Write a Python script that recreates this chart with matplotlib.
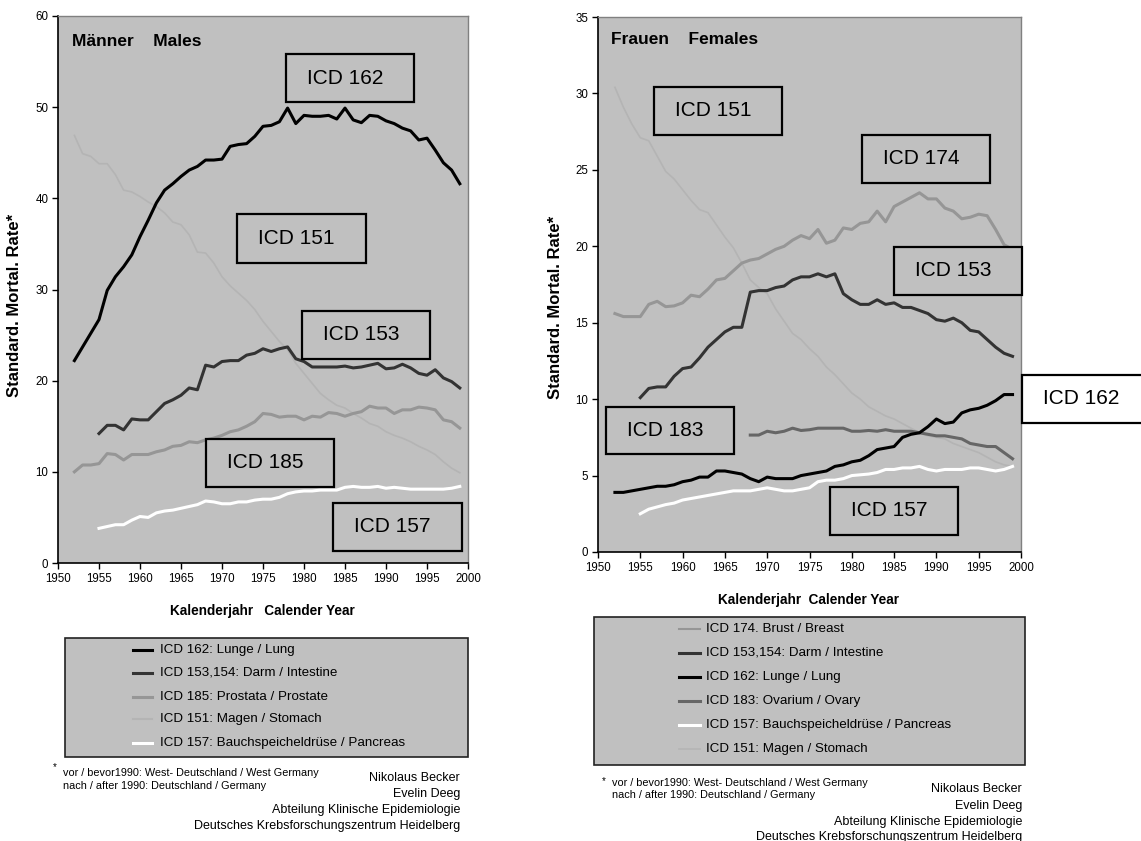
import numpy as np
import matplotlib
matplotlib.use("Agg")
import matplotlib.pyplot as plt
from matplotlib.transforms import Affine2D
from matplotlib.patches import Rectangle
from matplotlib.lines import Line2D

plt.rcParams['font.family'] = ['Liberation Sans', 'DejaVu Sans']

nan = np.nan
years = list(range(1952, 2000))

# ---------------- Males ----------------
m_162 = [22.2, 23.7, 25.2, 26.7, 29.9, 31.4, 32.5, 33.8, 35.8, 37.6, 39.5, 40.9, 41.6, 42.4, 43.1, 43.5,
         44.2, 44.2, 44.3, 45.7, 45.9, 46.0, 46.8, 47.9, 48.0, 48.4, 49.9, 48.2, 49.1, 49.0, 49.0, 49.1,
         48.7, 49.9, 48.6, 48.3, 49.1, 49.0, 48.5, 48.2, 47.7, 47.4, 46.4, 46.6, 45.3, 43.9, 43.1, 41.6]
m_153 = [nan, nan, nan, 14.2, 15.1, 15.1, 14.6, 15.8, 15.7, 15.7, 16.6, 17.5, 17.9, 18.4, 19.2, 19.0,
         21.7, 21.5, 22.1, 22.2, 22.2, 22.8, 23.0, 23.5, 23.2, 23.5, 23.7, 22.4, 22.1, 21.5, 21.5, 21.5,
         21.5, 21.6, 21.4, 21.5, 21.7, 21.9, 21.3, 21.4, 21.8, 21.4, 20.8, 20.6, 21.2, 20.3, 19.9, 19.2]
m_185 = [10.0, 10.75, 10.75, 10.9, 12.0, 11.9, 11.3, 11.9, 11.9, 11.9, 12.2, 12.4, 12.8, 12.9, 13.3, 13.2,
         13.5, 13.7, 14.0, 14.4, 14.6, 15.0, 15.5, 16.4, 16.3, 16.0, 16.1, 16.1, 15.7, 16.1, 16.0, 16.5,
         16.4, 16.1, 16.4, 16.6, 17.2, 17.0, 17.0, 16.4, 16.8, 16.8, 17.1, 17.0, 16.8, 15.7, 15.5, 14.8]
m_151 = [46.9, 44.9, 44.6, 43.8, 43.8, 42.6, 40.9, 40.7, 40.2, 39.6, 39.1, 38.4, 37.4, 37.1, 36.0, 34.1,
         34.0, 32.9, 31.4, 30.4, 29.6, 28.8, 27.8, 26.5, 25.4, 24.3, 23.4, 21.9, 20.8, 19.7, 18.6, 17.9,
         17.3, 17.0, 16.4, 15.9, 15.3, 15.0, 14.4, 14.0, 13.7, 13.3, 12.8, 12.4, 11.9, 11.1, 10.4, 9.9]
m_157 = [nan, nan, nan, 3.8, 4.0, 4.2, 4.2, 4.7, 5.1, 5.0, 5.5, 5.7, 5.8, 6.0, 6.2, 6.4,
         6.8, 6.7, 6.5, 6.5, 6.7, 6.7, 6.9, 7.0, 7.0, 7.2, 7.6, 7.8, 7.9, 7.9, 8.0, 8.0,
         8.0, 8.3, 8.4, 8.3, 8.3, 8.4, 8.2, 8.3, 8.2, 8.1, 8.1, 8.1, 8.1, 8.1, 8.2, 8.4]

m_labels = ["ICD 162: Lunge / Lung", "ICD 153,154: Darm / Intestine", "ICD 185: Prostata / Prostate",
            "ICD 151: Magen / Stomach", "ICD 157: Bauchspeicheldrüse / Pancreas"]

# ---------------- Females ----------------
f_174 = [15.6, 15.4, 15.4, 15.4, 16.2, 16.4, 16.05, 16.1, 16.3, 16.8, 16.7, 17.2, 17.8, 17.9, 18.4, 18.9,
         19.1, 19.2, 19.5, 19.8, 20.0, 20.4, 20.7, 20.5, 21.1, 20.2, 20.4, 21.2, 21.1, 21.5, 21.6, 22.3,
         21.6, 22.6, 22.9, 23.2, 23.5, 23.1, 23.1, 22.5, 22.3, 21.8, 21.9, 22.1, 22.0, 21.1, 20.1, 19.8]
f_153 = [nan, nan, nan, 10.1, 10.7, 10.8, 10.8, 11.5, 12.0, 12.1, 12.7, 13.4, 13.9, 14.4, 14.7, 14.7,
         17.0, 17.1, 17.1, 17.3, 17.4, 17.8, 18.0, 18.0, 18.2, 18.0, 18.2, 16.9, 16.5, 16.2, 16.2, 16.5,
         16.2, 16.3, 16.0, 16.0, 15.8, 15.6, 15.2, 15.1, 15.3, 15.0, 14.5, 14.4, 13.9, 13.4, 13.0, 12.8]
f_162 = [3.9, 3.9, 4.0, 4.1, 4.2, 4.3, 4.3, 4.4, 4.6, 4.7, 4.9, 4.9, 5.3, 5.3, 5.2, 5.1,
         4.8, 4.6, 4.9, 4.8, 4.8, 4.8, 5.0, 5.1, 5.2, 5.3, 5.6, 5.7, 5.9, 6.0, 6.3, 6.7,
         6.8, 6.9, 7.5, 7.7, 7.8, 8.2, 8.7, 8.4, 8.5, 9.1, 9.3, 9.4, 9.6, 9.9, 10.3, 10.3]
f_183 = [nan] * 16 + [7.65, 7.65, 7.9, 7.8, 7.9, 8.1, 7.95, 8.0, 8.1, 8.1, 8.1, 8.1, 7.9, 7.9, 7.95, 7.9,
                      8.0, 7.9, 7.9, 7.9, 7.8, 7.7, 7.6, 7.6, 7.5, 7.4, 7.1, 7.0, 6.9, 6.9, 6.5, 6.1]
f_157 = [nan, nan, nan, 2.5, 2.8, 2.95, 3.1, 3.2, 3.4, 3.5, 3.6, 3.7, 3.8, 3.9, 4.0, 4.0,
         4.0, 4.1, 4.2, 4.1, 4.0, 4.0, 4.1, 4.2, 4.6, 4.7, 4.7, 4.8, 5.0, 5.05, 5.1, 5.2,
         5.4, 5.4, 5.5, 5.5, 5.6, 5.4, 5.3, 5.4, 5.4, 5.4, 5.5, 5.5, 5.4, 5.3, 5.4, 5.6]
f_151 = [30.4, 29.1, 28.0, 27.1, 26.9, 25.9, 24.9, 24.4, 23.7, 23.0, 22.4, 22.2, 21.4, 20.6, 19.9, 18.9,
         17.8, 17.3, 16.9, 15.9, 15.1, 14.3, 13.9, 13.3, 12.8, 12.1, 11.6, 11.0, 10.4, 10.0, 9.5, 9.2,
         8.9, 8.7, 8.4, 8.1, 7.8, 7.6, 7.5, 7.4, 7.1, 6.9, 6.7, 6.5, 6.2, 5.9, 5.7, 5.6]

f_labels = ["ICD 174. Brust / Breast", "ICD 153,154: Darm / Intestine", "ICD 162: Lunge / Lung",
            "ICD 183: Ovarium / Ovary", "ICD 157: Bauchspeicheldrüse / Pancreas", "ICD 151: Magen / Stomach"]

x_ticks = [1950, 1955, 1960, 1965, 1970, 1975, 1980, 1985, 1990, 1995, 2000]
m_yticks = [0, 10, 20, 30, 40, 50, 60]
f_yticks = [0, 5, 10, 15, 20, 25, 30, 35]

# ---------------- figure ----------------
W, H = 1141, 841
fig = plt.figure(figsize=(W / 100, H / 100), dpi=100)
fig.patch.set_facecolor("white")
PX = Affine2D().scale(1.0 / W, -1.0 / H).translate(0, 1) + fig.transFigure

BG = "#c0c0c0"
C_BLACK, C_DARK, C_MID, C_OVA, C_LIGHT, C_WHITE = "#000000", "#333333", "#969696", "#666666", "#b4b4b4", "#ffffff"


def px_axes(x0, y0, x1, y1):
    return fig.add_axes([x0 / W, 1 - y1 / H, (x1 - x0) / W, (y1 - y0) / H])


def style_axes(ax, ymax, yticks):
    ax.set_facecolor(BG)
    ax.set_xlim(1950, 2000)
    ax.set_ylim(0, ymax)
    ax.set_xticks(x_ticks)
    ax.set_yticks(yticks)
    ax.tick_params(direction="out", length=4, width=1, labelsize=8.3, pad=3, colors="black")
    for s in ("top", "right"):
        ax.spines[s].set_color("#808080")
        ax.spines[s].set_linewidth(1)
    for s in ("left", "bottom"):
        ax.spines[s].set_color("black")
        ax.spines[s].set_linewidth(1.2)


def box(x0, y0, x1, y1, label, face=BG):
    r = Rectangle((x0, y0), x1 - x0, y1 - y0, transform=PX, facecolor=face, edgecolor="black",
                  linewidth=1.6, zorder=10, clip_on=False)
    fig.add_artist(r)
    fig.text(x0 + 21, (y0 + y1) / 2, label, transform=PX, fontsize=15, ha="left", va="center", zorder=11)


def legend(x0, y0, x1, y1, entries, ys, hx0, hx1, tx):
    r = Rectangle((x0, y0), x1 - x0, y1 - y0, transform=PX, facecolor=BG, edgecolor="#222222",
                  linewidth=1.2, zorder=5)
    fig.add_artist(r)
    for (lab, col, lw), y in zip(entries, ys):
        fig.add_artist(Line2D([hx0, hx1], [y, y], transform=PX, color=col, linewidth=lw, zorder=6))
        fig.text(tx, y, lab, transform=PX, fontsize=9.6, ha="left", va="center", zorder=6)


# ---- Males axes ----
ax1 = px_axes(58, 16, 468, 563)
style_axes(ax1, 60, m_yticks)
ax1.plot(years, m_151, color=C_LIGHT, lw=1.2)
ax1.plot(years, m_157, color=C_WHITE, lw=2.2)
ax1.plot(years, m_185, color=C_MID, lw=2.2)
ax1.plot(years, m_153, color=C_DARK, lw=2.2)
ax1.plot(years, m_162, color=C_BLACK, lw=2.2)
fig.text(72, 42, "Männer    Males", transform=PX, fontsize=12.5, fontweight="bold", ha="left", va="center")
fig.text(15, 305, "Standard. Mortal. Rate*", transform=PX, fontsize=12, fontweight="bold",
         rotation=90, ha="center", va="center")
fig.text(262, 611, "Kalenderjahr   Calender Year", transform=PX, fontsize=9.8, fontweight="bold",
         ha="center", va="center")

box(286, 54, 414, 102, "ICD 162")
box(237, 214, 366, 263, "ICD 151")
box(302, 311, 430, 359, "ICD 153")
box(206, 439, 334, 487, "ICD 185")
box(333, 503, 462, 551, "ICD 157")

legend(65, 638, 468, 757,
       [(m_labels[0], C_BLACK, 2.2), (m_labels[1], C_DARK, 2.2), (m_labels[2], C_MID, 2.2),
        (m_labels[3], C_LIGHT, 1.5), (m_labels[4], C_WHITE, 2.2)],
       [650, 673, 697, 719, 743], 133, 152, 160)

fig.text(53, 767, "*", transform=PX, fontsize=7, ha="left", va="center")
fig.text(63, 773, "vor / bevor1990: West- Deutschland / West Germany", transform=PX, fontsize=7.8,
         ha="left", va="center")
fig.text(63, 786, "nach / after 1990: Deutschland / Germany", transform=PX, fontsize=7.8,
         ha="left", va="center")
for t, y in zip(["Nikolaus Becker", "Evelin Deeg", "Abteilung Klinische Epidemiologie",
                 "Deutsches Krebsforschungszentrum Heidelberg"], [778, 794, 810, 826]):
    fig.text(460, y, t, transform=PX, fontsize=9, ha="right", va="center")

# ---- Females axes ----
ax2 = px_axes(598, 17, 1021, 552)
style_axes(ax2, 35, f_yticks)
ax2.plot(years, f_151, color=C_LIGHT, lw=1.2)
ax2.plot(years, f_157, color=C_WHITE, lw=2.2)
ax2.plot(years, f_174, color=C_MID, lw=2.2)
ax2.plot(years, f_183, color=C_OVA, lw=2.2)
ax2.plot(years, f_153, color=C_DARK, lw=2.2)
ax2.plot(years, f_162, color=C_BLACK, lw=2.2)
fig.text(611, 40, "Frauen    Females", transform=PX, fontsize=12.5, fontweight="bold", ha="left", va="center")
fig.text(555, 307, "Standard. Mortal. Rate*", transform=PX, fontsize=12, fontweight="bold",
         rotation=90, ha="center", va="center")
fig.text(809, 600, "Kalenderjahr  Calender Year", transform=PX, fontsize=9.8, fontweight="bold",
         ha="center", va="center")

box(654, 87, 782, 135, "ICD 151")
box(862, 135, 990, 183, "ICD 174")
box(894, 247, 1022, 295, "ICD 153")
box(1022, 375, 1150, 423, "ICD 162", face="white")
box(606, 407, 734, 454, "ICD 183")
box(830, 487, 958, 535, "ICD 157")

legend(594, 617, 1025, 765,
       [(f_labels[0], C_MID, 1.5), (f_labels[1], C_DARK, 2.2), (f_labels[2], C_BLACK, 2.2),
        (f_labels[3], C_OVA, 2.2), (f_labels[4], C_WHITE, 2.2), (f_labels[5], C_LIGHT, 1.2)],
       [629, 653, 677, 701, 725, 749], 679, 700, 706)

fig.text(602, 781, "*", transform=PX, fontsize=7, ha="left", va="center")
fig.text(612, 783, "vor / bevor1990: West- Deutschland / West Germany", transform=PX, fontsize=7.8,
         ha="left", va="center")
fig.text(612, 795, "nach / after 1990: Deutschland / Germany", transform=PX, fontsize=7.8,
         ha="left", va="center")
for t, y in zip(["Nikolaus Becker", "Evelin Deeg", "Abteilung Klinische Epidemiologie",
                 "Deutsches Krebsforschungszentrum Heidelberg"], [789, 806, 822, 837]):
    fig.text(1022, y, t, transform=PX, fontsize=9, ha="right", va="center")

fig.savefig("out.png", dpi=100, facecolor="white")
